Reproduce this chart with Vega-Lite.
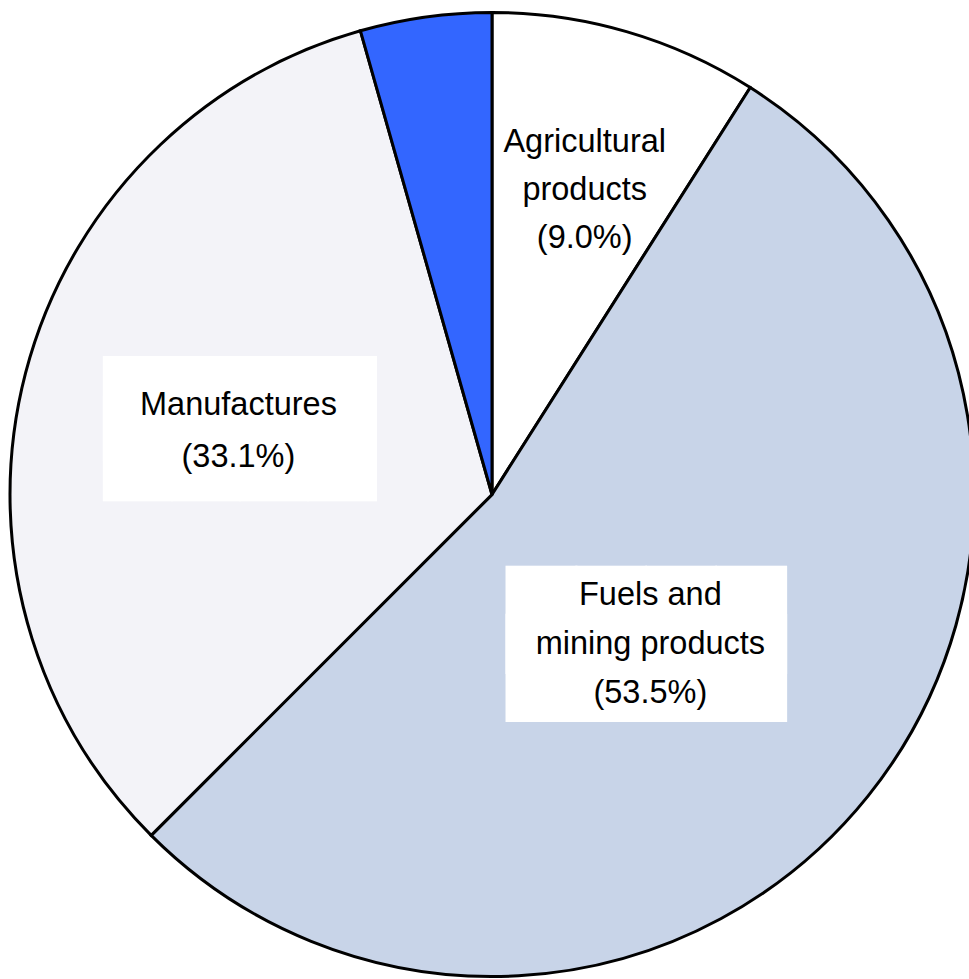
{
  "$schema": "https://vega.github.io/schema/vega-lite/v6.json",
  "width": 969,
  "height": 979,
  "autosize": {"type": "fit", "contains": "padding"},
  "padding": {"left": 15, "top": 10, "right": 0, "bottom": 0},
  "background": "white",
  "config": {"view": {"stroke": null}},
  "data": {
    "values": [
      {"category": "Agricultural products", "share": 9.0, "rank": 1, "label": "Agricultural\nproducts\n(9.0%)"},
      {"category": "Fuels and mining products", "share": 53.5, "rank": 2, "label": "Fuels and\nmining products\n(53.5%)"},
      {"category": "Manufactures", "share": 33.1, "rank": 3, "label": "Manufactures\n(33.1%)"},
      {"category": "Other", "share": 4.4, "rank": 4, "label": ""}
    ]
  },
  "encoding": {
    "theta": {"field": "share", "type": "quantitative", "stack": true},
    "order": {"field": "rank", "type": "quantitative"}
  },
  "layer": [
    {
      "mark": {"type": "arc", "outerRadius": 482, "stroke": "black", "strokeWidth": 3, "strokeJoin": "miter"},
      "encoding": {
        "color": {
          "field": "category",
          "type": "nominal",
          "legend": null,
          "scale": {
            "domain": ["Agricultural products", "Fuels and mining products", "Manufactures", "Other"],
            "range": ["#ffffff", "#c8d4e8", "#f3f3f8", "#3366ff"]
          }
        }
      }
    },
    {
      "mark": {"type": "text", "radius": 217, "dx": -15, "dy": -6, "font": "DejaVu Sans", "fontSize": 91, "lineHeight": 47.6, "lineBreak": "\n", "fill": "white", "align": "center", "baseline": "middle"},
      "encoding": {
        "text": {"condition": {"test": "datum.category === 'Fuels and mining products'", "value": "████\n████"}, "value": ""}
      }
    },
    {
      "mark": {"type": "text", "radius": 262, "dx": 1.5, "dy": -17, "font": "DejaVu Sans", "fontSize": 88.6, "lineHeight": 40.4, "lineBreak": "\n", "fill": "white", "align": "center", "baseline": "middle"},
      "encoding": {
        "text": {"condition": {"test": "datum.category === 'Manufactures'", "value": "████\n████"}, "value": ""}
      }
    },
    {
      "mark": {"type": "text", "radius": 318, "dx": 4, "dy": -47, "font": "Liberation Sans", "fontSize": 32.5, "lineHeight": 48, "lineBreak": "\n", "fill": "black", "align": "center", "baseline": "middle"},
      "encoding": {
        "text": {"condition": {"test": "datum.category === 'Agricultural products'", "field": "label"}, "value": ""}
      }
    },
    {
      "mark": {"type": "text", "radius": 217, "dx": -11, "dy": -35, "font": "Liberation Sans", "fontSize": 32.5, "lineHeight": 49, "lineBreak": "\n", "fill": "black", "align": "center", "baseline": "middle"},
      "encoding": {
        "text": {"condition": {"test": "datum.category === 'Fuels and mining products'", "field": "label"}, "value": ""}
      }
    },
    {
      "mark": {"type": "text", "radius": 262, "dx": 0, "dy": -24, "font": "Liberation Sans", "fontSize": 32.5, "lineHeight": 52, "lineBreak": "\n", "fill": "black", "align": "center", "baseline": "middle"},
      "encoding": {
        "text": {"condition": {"test": "datum.category === 'Manufactures'", "field": "label"}, "value": ""}
      }
    }
  ]
}
